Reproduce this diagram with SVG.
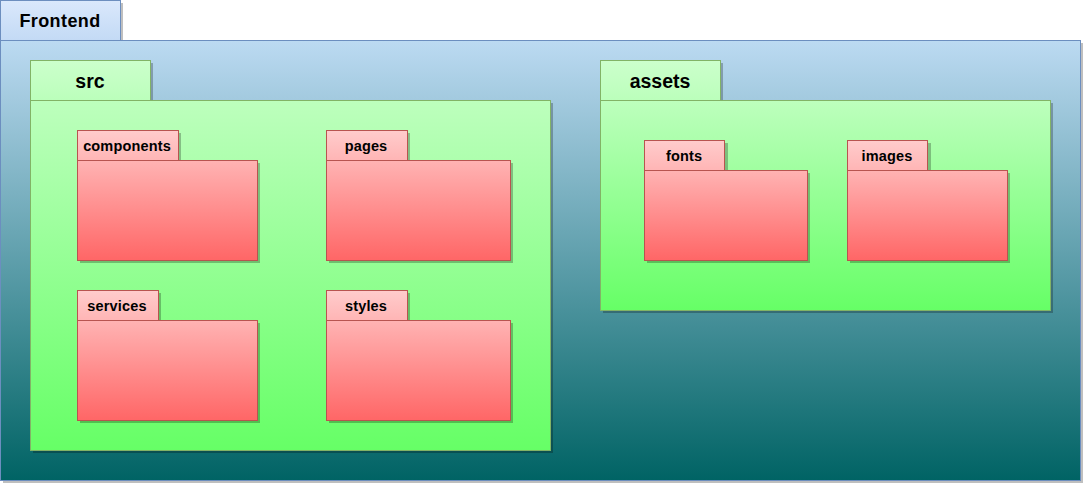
<svg xmlns="http://www.w3.org/2000/svg" width="1083" height="484" viewBox="0 0 1083 484">
<defs>
<linearGradient id="gOuterTab" x1="0" y1="0" x2="0" y2="1"><stop offset="0" stop-color="#dae8fc"/><stop offset="1" stop-color="#c3daf5"/></linearGradient>
<linearGradient id="gOuter" x1="0" y1="0" x2="0" y2="1"><stop offset="0" stop-color="#bcdaf2"/><stop offset="1" stop-color="#006364"/></linearGradient>
<linearGradient id="gGreenTab" x1="0" y1="0" x2="0" y2="1"><stop offset="0" stop-color="#ccffcc"/><stop offset="1" stop-color="#bbffbb"/></linearGradient>
<linearGradient id="gGreen" x1="0" y1="0" x2="0" y2="1"><stop offset="0" stop-color="#bdffbd"/><stop offset="1" stop-color="#66ff66"/></linearGradient>
<linearGradient id="gRedTab" x1="0" y1="0" x2="0" y2="1"><stop offset="0" stop-color="#ffcccc"/><stop offset="1" stop-color="#ffb5b5"/></linearGradient>
<linearGradient id="gRed" x1="0" y1="0" x2="0" y2="1"><stop offset="0" stop-color="#ffb3b3"/><stop offset="1" stop-color="#ff6666"/></linearGradient>
</defs>
<style>
.sh{fill:#000;fill-opacity:0.25}
.ot{fill:url(#gOuterTab);stroke:#6c8ebf;stroke-width:1}
.ob{fill:url(#gOuter);stroke:#6c8ebf;stroke-width:1}
.gt{fill:url(#gGreenTab);stroke:#82b366;stroke-width:1}
.gb{fill:url(#gGreen);stroke:#82b366;stroke-width:1}
.rt{fill:url(#gRedTab);stroke:#b85450;stroke-width:1}
.rb{fill:url(#gRed);stroke:#b85450;stroke-width:1}
text{font-family:"Liberation Sans",Arial,sans-serif;font-weight:bold;fill:#000;text-anchor:middle}
.t1{font-size:18px;letter-spacing:0.4px}
.t2{font-size:19.5px}
.t3{font-size:14.5px;letter-spacing:0.15px}
</style>
<rect width="1083" height="484" fill="#ffffff"/>
<g id="frontend">
<rect class="sh" x="3" y="3" width="120" height="40"/>
<rect class="sh" x="3" y="43" width="1080" height="440"/>
<rect class="ot" x="0.5" y="0.5" width="120" height="40"/>
<rect class="ob" x="0.5" y="40.5" width="1080" height="440"/>
<text class="t1" x="60" y="27">Frontend</text>
</g>
<g id="src">
<rect class="sh" x="33" y="63" width="120" height="40"/>
<rect class="sh" x="33" y="103" width="520" height="350"/>
<rect class="gt" x="30.5" y="60.5" width="120" height="40"/>
<rect class="gb" x="30.5" y="100.5" width="520" height="350"/>
<text class="t2" x="90" y="88">src</text>
</g>
<g id="components">
<rect class="sh" x="80" y="133" width="101" height="30"/>
<rect class="sh" x="80" y="163" width="180" height="100"/>
<rect class="rt" x="77.5" y="130.5" width="101" height="30"/>
<rect class="rb" x="77.5" y="160.5" width="180" height="100"/>
<text class="t3" x="127" y="151">components</text>
</g>
<g id="pages">
<rect class="sh" x="329" y="133" width="81" height="30"/>
<rect class="sh" x="329" y="163" width="184" height="100"/>
<rect class="rt" x="326.5" y="130.5" width="81" height="30"/>
<rect class="rb" x="326.5" y="160.5" width="184" height="100"/>
<text class="t3" x="366" y="151">pages</text>
</g>
<g id="services">
<rect class="sh" x="80" y="293" width="81" height="30"/>
<rect class="sh" x="80" y="323" width="180" height="100"/>
<rect class="rt" x="77.5" y="290.5" width="81" height="30"/>
<rect class="rb" x="77.5" y="320.5" width="180" height="100"/>
<text class="t3" x="117" y="311">services</text>
</g>
<g id="styles">
<rect class="sh" x="329" y="293" width="81" height="30"/>
<rect class="sh" x="329" y="323" width="184" height="100"/>
<rect class="rt" x="326.5" y="290.5" width="81" height="30"/>
<rect class="rb" x="326.5" y="320.5" width="184" height="100"/>
<text class="t3" x="366" y="311">styles</text>
</g>
<g id="assets">
<rect class="sh" x="603" y="63" width="120" height="40"/>
<rect class="sh" x="603" y="103" width="450" height="210"/>
<rect class="gt" x="600.5" y="60.5" width="120" height="40"/>
<rect class="gb" x="600.5" y="100.5" width="450" height="210"/>
<text class="t2" x="660" y="88">assets</text>
</g>
<g id="fonts">
<rect class="sh" x="647" y="143" width="81" height="30"/>
<rect class="sh" x="647" y="173" width="163" height="90"/>
<rect class="rt" x="644.5" y="140.5" width="80" height="30"/>
<rect class="rb" x="644.5" y="170.5" width="163" height="90"/>
<text class="t3" x="684" y="161">fonts</text>
</g>
<g id="images">
<rect class="sh" x="850" y="143" width="81" height="30"/>
<rect class="sh" x="850" y="173" width="160" height="90"/>
<rect class="rt" x="847.5" y="140.5" width="80" height="30"/>
<rect class="rb" x="847.5" y="170.5" width="160" height="90"/>
<text class="t3" x="887" y="161">images</text>
</g>
<g id="connectors"></g>
</svg>
